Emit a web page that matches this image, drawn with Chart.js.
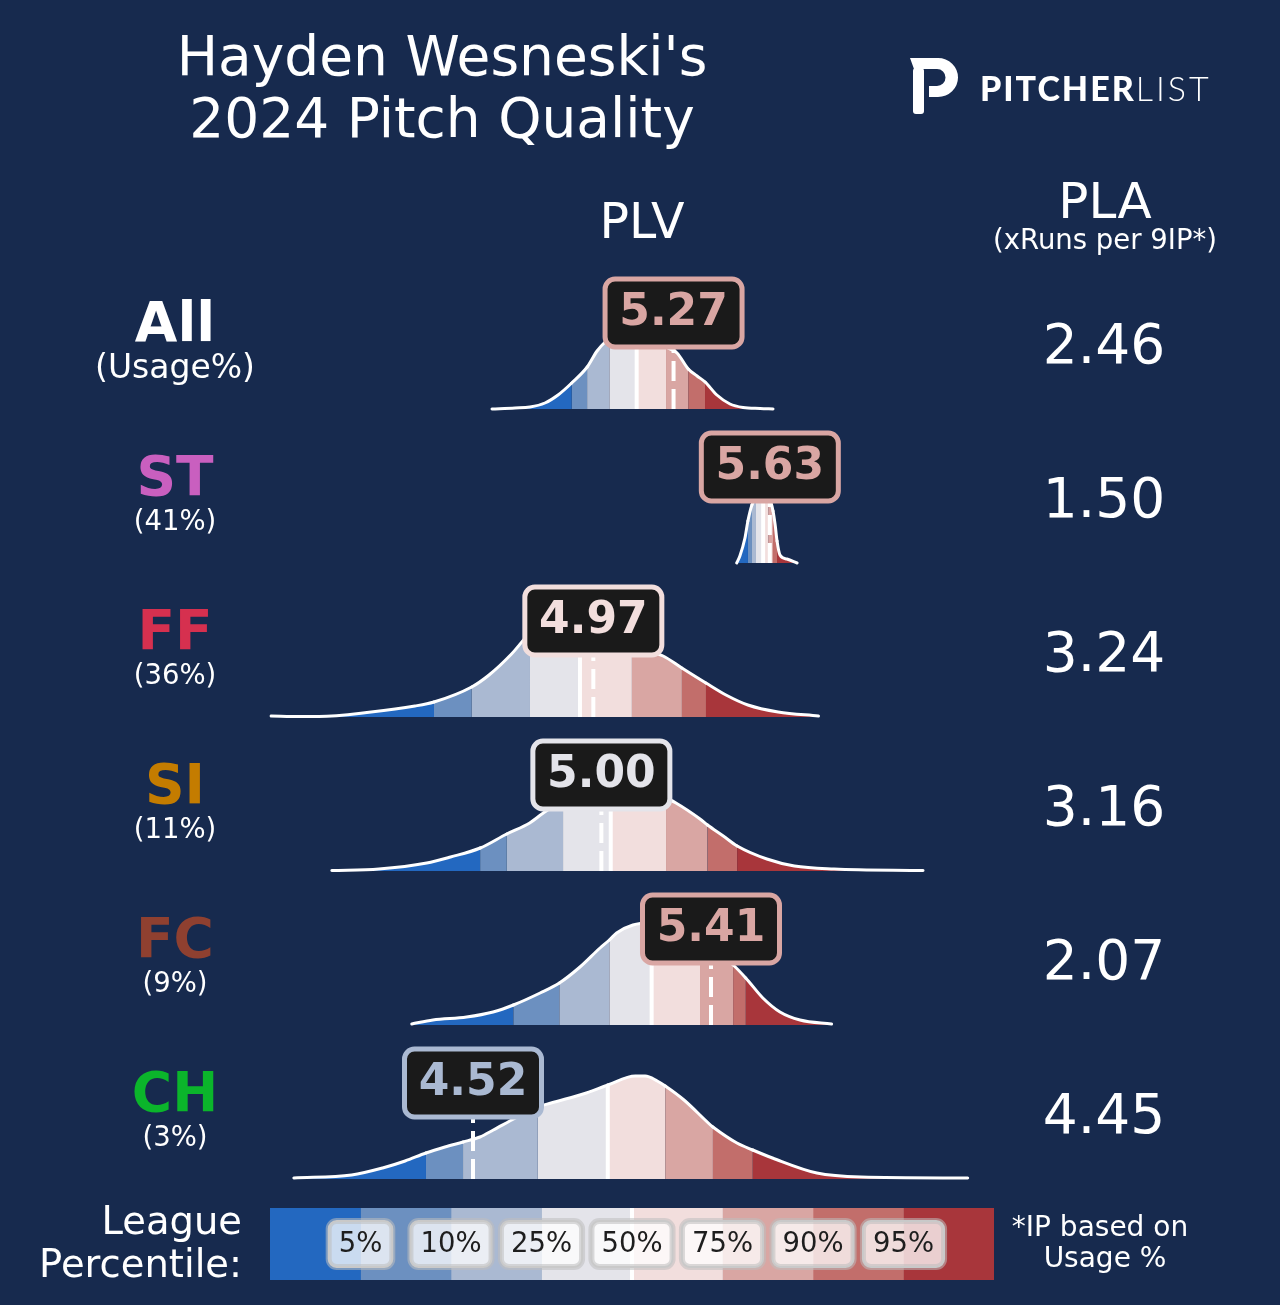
<!DOCTYPE html>
<html>
<head>
<meta charset="utf-8">
<script src="https://cdn.jsdelivr.net/npm/chart.js@4.4.0/dist/chart.umd.min.js"></script>
<style>
  html, body { margin: 0; padding: 0; }
  body { width: 1280px; height: 1305px; background: #172a4e; position: relative; overflow: hidden;
         font-family: "DejaVu Sans", sans-serif; color: #fff; }
  #chart { position: absolute; left: 0; top: 0; }
  #legend { position: absolute; left: 270px; top: 1208px; }
  .t { position: absolute; white-space: nowrap; }
</style>
</head>
<body>
<canvas id="chart" width="1280" height="1305"></canvas>
<canvas id="legend" width="724" height="72"></canvas>
<svg style="position:absolute;left:908px;top:56px" width="52" height="60" viewBox="0 0 52 60">
  <path fill="#fff" d="M2 2 L30 2 A20 19.5 0 0 1 30 41 L21 41 L21 30 L29 30 A8.5 8.5 0 0 0 29 13 L6 13 Z"/>
  <rect x="5" y="12" width="11" height="46" rx="3" fill="#fff"/>
</svg>
<script>
// pitch rows
const rowNames = ['All', 'ST', 'FF', 'SI', 'FC', 'CH'];
const rowColors = ['#ffffff', '#c95fbf', '#d6304f', '#c47c00', '#8f4030', '#0bb52b'];
const usageLabels = ['(Usage%)', '(41%)', '(36%)', '(11%)', '(9%)', '(3%)'];
const plvValues = [5.27, 5.63, 4.97, 5.00, 5.41, 4.52];
const plaValues = ['2.46', '1.50', '3.24', '3.16', '2.07', '4.45'];

// league percentile cut points (5,10,25,50,75,90,95)
const percentileLabels = ['5%', '10%', '25%', '50%', '75%', '90%', '95%'];
const bandColors = ['#2368c0', '#6c90c0', '#aab9d2', '#e4e4ea', '#f2dedd', '#d9a6a3', '#c26e6b', '#a8363b'];
const allPct = [4.889, 4.947, 5.030, 5.132, 5.242, 5.325, 5.388];
const stPct = [5.548, 5.563, 5.578, 5.605, 5.624, 5.642, 5.657];
const ffPct = [4.374, 4.515, 4.733, 4.920, 5.114, 5.301, 5.391];
const siPct = [4.547, 4.646, 4.857, 5.035, 5.242, 5.397, 5.508];
const fcPct = [4.671, 4.843, 5.030, 5.188, 5.369, 5.493, 5.540];
const chPct = [4.344, 4.483, 4.762, 5.024, 5.239, 5.417, 5.566];

// density curves (PLV, relative height)
const allX = [4.591, 4.677, 4.733, 4.789, 4.838, 4.889, 4.947, 4.984, 5.014, 5.030, 5.070, 5.132, 5.189, 5.242, 5.283, 5.325, 5.358, 5.388, 5.432, 5.481, 5.530, 5.594, 5.642];
const allH = [0.00, 0.01, 0.02, 0.06, 0.14, 0.26, 0.42, 0.58, 0.67, 0.70, 0.75, 0.77, 0.72, 0.62, 0.56, 0.40, 0.33, 0.27, 0.14, 0.05, 0.015, 0.005, 0.00];
const stX = [5.506, 5.518, 5.537, 5.548, 5.563, 5.578, 5.605, 5.624, 5.642, 5.650, 5.657, 5.668, 5.694, 5.732];
const stH = [0.00, 0.07, 0.25, 0.42, 0.58, 0.66, 0.72, 0.68, 0.52, 0.38, 0.22, 0.08, 0.04, 0.00];
const ffX = [3.765, 3.873, 3.944, 4.139, 4.303, 4.374, 4.515, 4.580, 4.664, 4.733, 4.808, 4.864, 4.920, 4.995, 5.051, 5.114, 5.172, 5.231, 5.301, 5.391, 5.466, 5.548, 5.661, 5.812];
const ffH = [0.01, 0.005, 0.005, 0.05, 0.11, 0.15, 0.30, 0.42, 0.63, 0.84, 0.98, 1.01, 0.97, 0.86, 0.77, 0.70, 0.66, 0.61, 0.49, 0.34, 0.22, 0.12, 0.05, 0.01];
const siX = [3.992, 4.168, 4.347, 4.436, 4.547, 4.646, 4.732, 4.783, 4.857, 4.939, 5.035, 5.126, 5.242, 5.279, 5.369, 5.397, 5.456, 5.508, 5.619, 5.722, 5.870, 6.203];
const siH = [0.005, 0.02, 0.08, 0.14, 0.23, 0.37, 0.48, 0.58, 0.70, 0.77, 0.80, 0.79, 0.73, 0.68, 0.52, 0.46, 0.35, 0.25, 0.12, 0.05, 0.02, 0.005];
const fcX = [4.291, 4.370, 4.496, 4.595, 4.671, 4.771, 4.843, 4.920, 4.995, 5.030, 5.057, 5.118, 5.179, 5.188, 5.257, 5.332, 5.369, 5.425, 5.493, 5.540, 5.556, 5.604, 5.668, 5.743, 5.861];
const fcH = [0.01, 0.05, 0.08, 0.13, 0.20, 0.32, 0.42, 0.58, 0.77, 0.85, 0.92, 1.00, 1.02, 1.02, 1.00, 0.92, 0.85, 0.74, 0.60, 0.47, 0.42, 0.27, 0.13, 0.05, 0.01];
const chX = [3.850, 4.066, 4.182, 4.266, 4.344, 4.415, 4.483, 4.546, 4.596, 4.679, 4.762, 4.812, 4.944, 5.014, 5.024, 5.127, 5.164, 5.209, 5.239, 5.309, 5.408, 5.417, 5.507, 5.566, 5.640, 5.806, 5.971, 6.370];
const chH = [0.01, 0.04, 0.11, 0.18, 0.26, 0.32, 0.37, 0.42, 0.49, 0.61, 0.72, 0.76, 0.86, 0.93, 0.94, 1.03, 1.03, 0.98, 0.93, 0.79, 0.54, 0.52, 0.36, 0.29, 0.21, 0.06, 0.02, 0.01];

const curves = [
    { x: allX, h: allH, pct: allPct },
    { x: stX, h: stH, pct: stPct },
    { x: ffX, h: ffH, pct: ffPct },
    { x: siX, h: siH, pct: siPct },
    { x: fcX, h: fcH, pct: fcPct },
    { x: chX, h: chH, pct: chPct }
];

const ROW_GAP = 1.54;
const BOX_LIFT = 0.96;
const baseOf = i => (rowNames.length - 1 - i) * ROW_GAP;
const bandIndex = (pct, v) => pct.filter(p => p <= v).length;

// ---- text (kept as real text) ----
function addText(txt, x, baseline, size, opts = {}) {
    const d = document.createElement('div');
    d.className = 't';
    d.textContent = txt;
    const shift = opts.align === 'right' ? '-100%' : opts.align === 'left' ? '0' : '-50%';
    d.style.left = x + 'px';
    d.style.top = (baseline - (opts.base || 0.846) * size) + 'px';
    d.style.fontSize = size + 'px';
    d.style.lineHeight = size + 'px';
    d.style.transform = `translateX(${shift})`;
    if (opts.weight) d.style.fontWeight = opts.weight;
    if (opts.color) d.style.color = opts.color;
    if (opts.family) d.style.fontFamily = opts.family;
    document.body.appendChild(d);
    return d;
}

addText("Hayden Wesneski's", 442, 76, 55);
addText('2024 Pitch Quality', 442, 138, 55);
addText('PLV', 642, 238, 49);
addText('PLA', 1105, 218, 50);
addText('(xRuns per 9IP*)', 1105, 249, 27.5);

const logo = addText('', 980, 101, 34, { align: 'left', family: 'Lato, sans-serif', base: 0.887 });
logo.innerHTML = '<span style="font-weight:900;letter-spacing:2px">PITCHER</span><span style="font-weight:300;letter-spacing:3px">LIST</span>';

rowNames.forEach((name, i) => {
    addText(name, 175, 342 + 154 * i, 55, { weight: 'bold', color: rowColors[i] });
    if (i === 0) addText(usageLabels[i], 175, 378, 33);
    else addText(usageLabels[i], 175, 376 + 154 * i, 27.5);
    addText(plaValues[i], 1104, 364 + 154 * i, 55);
});

addText('League', 242, 1235, 38.5, { align: 'right' });
addText('Percentile:', 242, 1278, 38.5, { align: 'right' });
addText('*IP based on', 1100, 1237, 28);
addText('Usage %', 1105, 1268, 28);

// ---- main ridgeline chart ----
const datasets = [];
curves.forEach((c, i) => {
    const base = baseOf(i);
    const bandFill = ctx => {
        const m = (c.x[ctx.p0DataIndex] + c.x[ctx.p1DataIndex]) / 2;
        return bandColors[bandIndex(c.pct, m)];
    };
    const pts = c.x.map((x, k) => ({ x: x, y: base + c.h[k] }));
    // underlay pass hides the seams between coloured bands
    datasets.push({
        data: pts,
        fill: { value: base },
        backgroundColor: bandColors[3],
        borderWidth: 0,
        pointRadius: 0,
        cubicInterpolationMode: 'monotone',
        segment: { backgroundColor: bandFill },
        order: 4
    });
    datasets.push({
        data: pts,
        fill: { value: base },
        backgroundColor: bandColors[3],
        borderColor: '#ffffff',
        borderWidth: 3,
        borderCapStyle: 'round',
        borderJoinStyle: 'round',
        pointRadius: 0,
        cubicInterpolationMode: 'monotone',
        segment: { backgroundColor: bandFill },
        order: 3
    });
    const med = c.pct[3];
    const medH = c.h[c.x.indexOf(med)];
    datasets.push({
        data: [{ x: med, y: base }, { x: med, y: base + medH }],
        borderColor: '#ffffff',
        borderWidth: 4,
        pointRadius: 0,
        fill: false,
        order: 2
    });
    datasets.push({
        data: [{ x: plvValues[i], y: base }, { x: plvValues[i], y: base + BOX_LIFT }],
        borderColor: '#ffffff',
        borderWidth: 4,
        borderDash: [20, 8],
        pointRadius: 0,
        fill: false,
        order: 1
    });
});

function roundRect(ctx, x, y, w, h, r) {
    ctx.beginPath();
    ctx.moveTo(x + r, y);
    ctx.arcTo(x + w, y, x + w, y + h, r);
    ctx.arcTo(x + w, y + h, x, y + h, r);
    ctx.arcTo(x, y + h, x, y, r);
    ctx.arcTo(x, y, x + w, y, r);
    ctx.closePath();
}

const valueBoxes = {
    id: 'valueBoxes',
    afterDatasetsDraw(chart) {
        const { ctx, scales: { x, y } } = chart;
        ctx.save();
        plvValues.forEach((v, i) => {
            const col = bandColors[bandIndex(curves[i].pct, v)];
            const cx = x.getPixelForValue(v);
            const cy = y.getPixelForValue(baseOf(i) + BOX_LIFT);
            const w = 137, h = 68;
            roundRect(ctx, cx - w / 2, cy - h / 2, w, h, 10);
            ctx.fillStyle = '#1a1a1a';
            ctx.fill();
            ctx.lineWidth = 5;
            ctx.strokeStyle = col;
            ctx.stroke();
            ctx.fillStyle = col;
            ctx.font = 'bold 44px "DejaVu Sans"';
            ctx.textAlign = 'center';
            ctx.textBaseline = 'middle';
            ctx.fillText(v.toFixed(2), cx, cy + 1);
        });
        ctx.restore();
    }
};

new Chart(document.getElementById('chart'), {
    type: 'line',
    data: { datasets },
    options: {
        responsive: false,
        animation: false,
        layout: { padding: 0 },
        scales: {
            x: { type: 'linear', min: 2.7511, max: 7.5379, display: false },
            y: { type: 'linear', min: -1.26, max: 11.79, display: false }
        },
        plugins: { legend: { display: false }, tooltip: { enabled: false } }
    },
    plugins: [valueBoxes]
});

// ---- percentile legend bar ----
const legendLabels = {
    id: 'legendLabels',
    afterDatasetsDraw(chart) {
        const { ctx, chartArea: a, scales: { x } } = chart;
        ctx.save();
        const mid = x.getPixelForValue(4);
        ctx.fillStyle = '#ffffff';
        ctx.fillRect(mid - 2, a.top, 4, a.bottom - a.top);
        ctx.font = '27.5px "DejaVu Sans"';
        ctx.textAlign = 'center';
        ctx.textBaseline = 'middle';
        const cy = (a.top + a.bottom) / 2;
        percentileLabels.forEach((lab, k) => {
            const cx = x.getPixelForValue(k + 1);
            const w = ctx.measureText(lab).width + 20, h = 46;
            roundRect(ctx, cx - w / 2, cy - h / 2, w, h, 8);
            ctx.fillStyle = 'rgba(255,255,255,0.76)';
            ctx.fill();
            ctx.lineWidth = 6;
            ctx.strokeStyle = 'rgba(190,190,190,0.55)';
            ctx.stroke();
            ctx.lineWidth = 2;
            ctx.strokeStyle = '#c9c9c9';
            ctx.stroke();
            ctx.fillStyle = '#1e1e1e';
            ctx.fillText(lab, cx, cy + 1);
        });
        ctx.restore();
    }
};

new Chart(document.getElementById('legend'), {
    type: 'bar',
    data: {
        labels: ['League Percentile'],
        datasets: bandColors.map(c => ({ data: [1], backgroundColor: c, borderWidth: 0 }))
    },
    options: {
        indexAxis: 'y',
        responsive: false,
        animation: false,
        layout: { padding: 0 },
        datasets: { bar: { barPercentage: 1, categoryPercentage: 1 } },
        scales: {
            x: { stacked: true, min: 0, max: 8, display: false },
            y: { stacked: true, display: false }
        },
        plugins: { legend: { display: false }, tooltip: { enabled: false } }
    },
    plugins: [legendLabels]
});
</script>
</body>
</html>
